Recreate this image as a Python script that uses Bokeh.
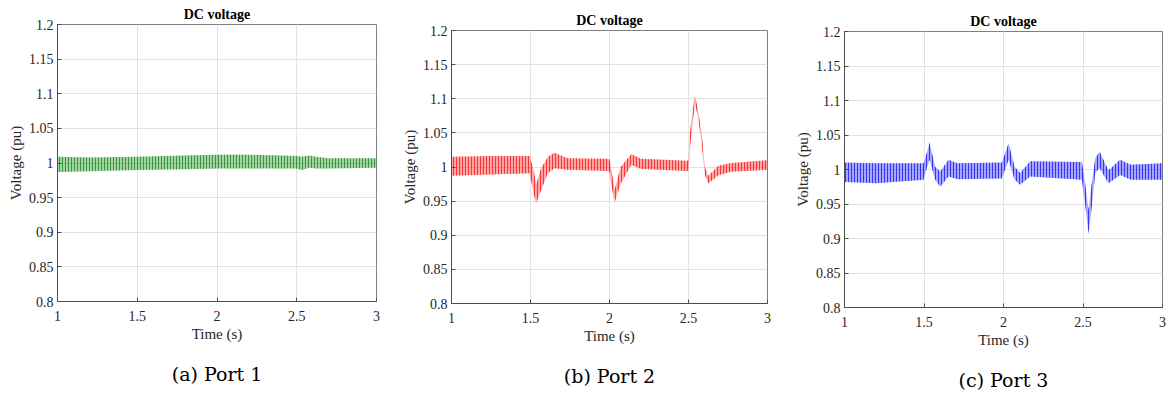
from bokeh.plotting import figure
from bokeh.layouts import row, column
from bokeh.models import Title, Range1d, FixedTicker, Spacer
from bokeh.embed import file_html
from bokeh.resources import INLINE

# ---------------- data ----------------
time_ticks = [1, 1.5, 2, 2.5, 3]
time_labels = ["1", "1.5", "2", "2.5", "3"]
volt_ticks = [0.8, 0.85, 0.9, 0.95, 1.0, 1.05, 1.1, 1.15, 1.2]
volt_labels = ["0.8", "0.85", "0.9", "0.95", "1", "1.05", "1.1", "1.15", "1.2"]

# Port 1 (green) ripple envelope
p1_t =     [1.0,   1.2,   1.5,   1.8,   2.0,   2.2,   2.5,   2.53,  2.58,  2.62,  2.7,   3.0]
p1_upper = [1.009, 1.008, 1.009, 1.011, 1.012, 1.012, 1.010, 1.009, 1.011, 1.009, 1.007, 1.007]
p1_lower = [0.987, 0.988, 0.990, 0.991, 0.992, 0.992, 0.992, 0.990, 0.993, 0.992, 0.992, 0.993]

# Port 2 (red) ripple envelope
p2_t =     [1.0,   1.25,  1.495, 1.52,  1.535, 1.567, 1.61,  1.651, 1.735, 1.99,  2.0,
            2.01,  2.032, 2.07,  2.138, 2.2,   2.49,  2.5,   2.51,  2.54,  2.56,  2.583,
            2.604, 2.625, 2.689, 2.77,  3.0]
p2_upper = [1.015, 1.016, 1.016, 0.996, 0.974, 0.998, 1.015, 1.021, 1.013, 1.012, 1.011,
            1.000, 0.966, 1.000, 1.019, 1.012, 1.009, 1.010, 1.052, 1.105, 1.084, 1.049,
            1.000, 0.987, 1.002, 1.006, 1.010]
p2_lower = [0.987, 0.989, 0.991, 0.961, 0.947, 0.966, 0.991, 0.998, 0.996, 0.994, 0.993,
            0.976, 0.948, 0.975, 1.003, 0.997, 0.994, 0.994, 1.030, 1.093, 1.074, 1.035,
            0.988, 0.976, 0.988, 0.993, 0.996]

# Port 3 (blue) ripple envelope
p3_t =     [1.0,   1.2,   1.497, 1.52,  1.535, 1.57,  1.602, 1.654, 1.71,  1.99,  2.032,
            2.07,  2.105, 2.168, 2.493, 2.51,  2.535, 2.555, 2.577, 2.604, 2.66,  2.734,
            2.8,   3.0]
p3_upper = [1.010, 1.009, 1.009, 1.026, 1.039, 1.004, 0.997, 1.014, 1.009, 1.010, 1.038,
            1.004, 0.995, 1.012, 1.011, 0.985, 0.941, 0.980, 1.016, 1.026, 0.999, 1.014,
            1.007, 1.009]
p3_lower = [0.982, 0.980, 0.985, 1.004, 1.014, 0.985, 0.975, 0.990, 0.986, 0.987, 1.014,
            0.985, 0.978, 0.990, 0.985, 0.956, 0.907, 0.946, 0.995, 1.002, 0.980, 0.992,
            0.985, 0.985]

panels = [
    dict(t=p1_t, up=p1_upper, lo=p1_lower, color="#008000", caption="(a) Port 1",
         bl=57, fw=319, br=18, fh=277, top=2, tstand=5),
    dict(t=p2_t, up=p2_upper, lo=p2_lower, color="#ff0000", caption="(b) Port 2",
         bl=57, fw=316, br=22, fh=273, top=8, tstand=5),
    dict(t=p3_t, up=p3_upper, lo=p3_lower, color="#0000ff", caption="(c) Port 3",
         bl=55, fw=318, br=4, fh=276, top=8, tstand=6),
]

SERIF = "Liberation Serif"
TXT = "#262626"

cols = []
for pn in panels:
    p = figure(frame_width=pn["fw"], frame_height=pn["fh"],
               min_border_left=pn["bl"], min_border_right=pn["br"],
               min_border_top=0, min_border_bottom=0,
               x_range=Range1d(1, 3), y_range=Range1d(0.8, 1.2),
               output_backend="svg", toolbar_location=None,
               background_fill_color="white", border_fill_color="white")
    p.title.text = "DC voltage"
    p.title.align = "center"
    p.title.text_font = SERIF
    p.title.text_font_style = "bold"
    p.title.text_font_size = "14px"
    p.title.text_color = "black"
    p.title.standoff = pn["tstand"]

    p.outline_line_color = "#808080"
    p.outline_line_width = 1

    for ax in (p.xaxis[0], p.yaxis[0]):
        ax.major_label_text_font = SERIF
        ax.major_label_text_font_size = "14px"
        ax.major_label_text_color = TXT
        ax.axis_label_text_font = SERIF
        ax.axis_label_text_font_size = "15px"
        ax.axis_label_text_font_style = "normal"
        ax.axis_label_text_color = TXT
        ax.axis_line_color = "#4d4d4d"
        ax.major_tick_line_color = "#4d4d4d"
        ax.major_tick_in = 4
        ax.major_tick_out = 0
        ax.minor_tick_line_color = None
        ax.axis_label_standoff = 2
    p.xaxis[0].major_label_standoff = 9
    p.yaxis[0].major_label_standoff = 4
    p.xaxis[0].ticker = FixedTicker(ticks=time_ticks)
    p.xaxis[0].major_label_overrides = dict(zip(time_ticks, time_labels))
    p.yaxis[0].ticker = FixedTicker(ticks=volt_ticks)
    p.yaxis[0].major_label_overrides = dict(zip(volt_ticks, volt_labels))
    p.xaxis[0].axis_label = "Time (s)"
    p.yaxis[0].axis_label = "Voltage (pu)"

    p.xgrid.grid_line_color = "#e3e3e3"
    p.ygrid.grid_line_color = "#e3e3e3"

    p.varea(x=pn["t"], y1=pn["lo"], y2=pn["up"],
            fill_color=pn["color"], fill_alpha=0.35,
            hatch_pattern="vertical_line", hatch_color=pn["color"],
            hatch_scale=3, hatch_weight=0.8, hatch_alpha=0.85)

    cap = Title(text=pn["caption"], align="center", text_font="DejaVu Serif",
                text_font_size="19px", text_font_style="normal", text_color="black",
                standoff=32)
    p.add_layout(cap, "below")
    cols.append(column(Spacer(height=pn["top"]), p, spacing=0))

layout = row(*cols, spacing=0)
open("out.html", "w").write(file_html(layout, INLINE))
